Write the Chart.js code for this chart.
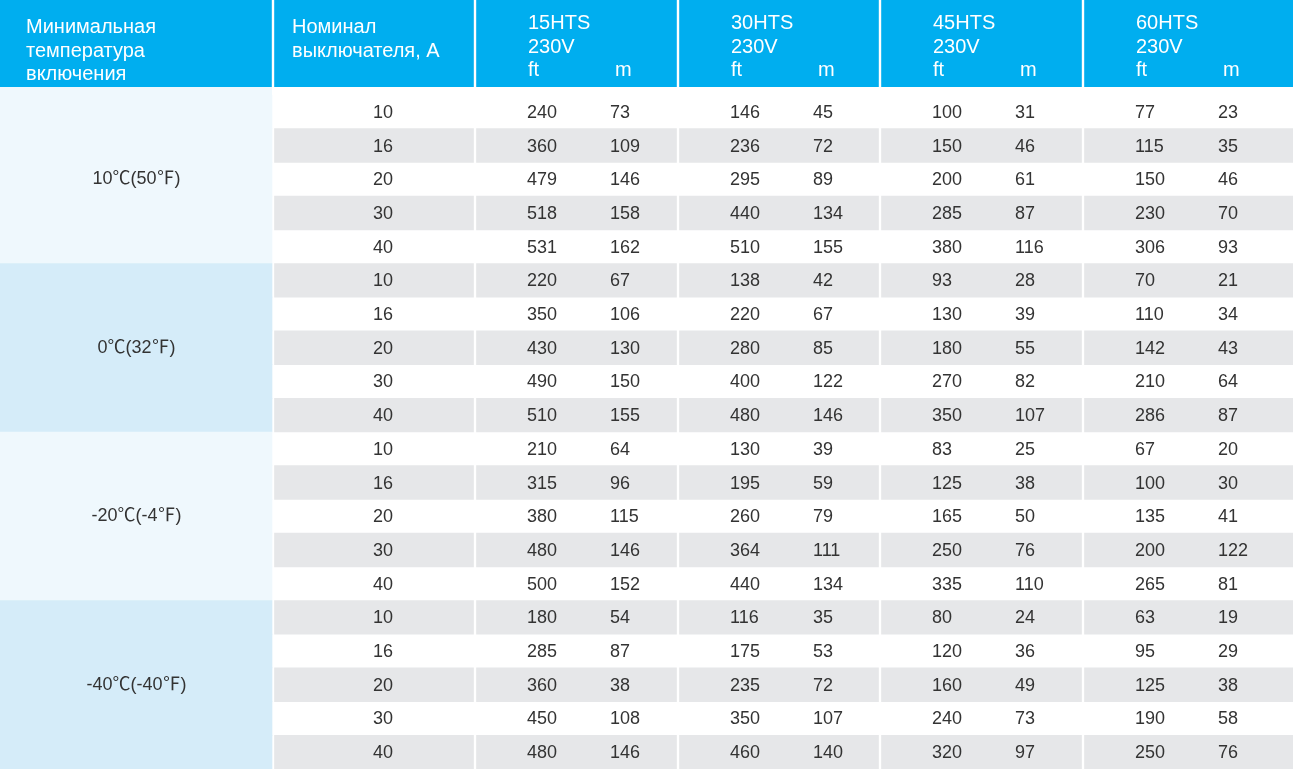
<!DOCTYPE html>
<html lang="ru">
<head>
<meta charset="utf-8">
<title>Максимальная длина цепи</title>
<script src="https://cdn.jsdelivr.net/npm/chart.js@4.4.1/dist/chart.umd.min.js"></script>
<style>
    html, body { margin: 0; padding: 0; background: #fff; }
    #wrap { width: 1293px; height: 772px; position: relative; }
</style>
</head>
<body>
<div id="wrap"><canvas id="table-chart"></canvas></div>
<script>
// --- DATA ---
const tempGroups = ['10℃(50℉)', '0℃(32℉)', '-20℃(-4℉)', '-40℃(-40℉)'];
const breakerRatings = [10, 16, 20, 30, 40];
const models = ['15HTS', '30HTS', '45HTS', '60HTS'];
const voltage = '230V';
const unitLabels = ['ft', 'm'];
const headerTemp = ['Минимальная', 'температура', 'включения'];
const headerBreaker = ['Номинал', 'выключателя, А'];

// one value per row: 4 temperature groups x 5 breaker ratings
const ft15 = [240, 360, 479, 518, 531, 220, 350, 430, 490, 510, 210, 315, 380, 480, 500, 180, 285, 360, 450, 480];
const m15  = [73, 109, 146, 158, 162, 67, 106, 130, 150, 155, 64, 96, 115, 146, 152, 54, 87, 38, 108, 146];
const ft30 = [146, 236, 295, 440, 510, 138, 220, 280, 400, 480, 130, 195, 260, 364, 440, 116, 175, 235, 350, 460];
const m30  = [45, 72, 89, 134, 155, 42, 67, 85, 122, 146, 39, 59, 79, 111, 134, 35, 53, 72, 107, 140];
const ft45 = [100, 150, 200, 285, 380, 93, 130, 180, 270, 350, 83, 125, 165, 250, 335, 80, 120, 160, 240, 320];
const m45  = [31, 46, 61, 87, 116, 28, 39, 55, 82, 107, 25, 38, 50, 76, 110, 24, 36, 49, 73, 97];
const ft60 = [77, 115, 150, 230, 306, 70, 110, 142, 210, 286, 67, 100, 135, 200, 265, 63, 95, 125, 190, 250];
const m60  = [23, 35, 46, 70, 93, 21, 34, 43, 64, 87, 20, 30, 41, 122, 81, 19, 29, 38, 58, 76];

const ftValues = [ft15, ft30, ft45, ft60];
const mValues = [m15, m30, m45, m60];

// --- LAYOUT & STYLE ---
const HEADER_H = 87;
const colEdges = [0, 273, 475, 678, 880, 1083, 1293]; // x units of the table
const BLUE = '#00aeef';
const GROUP_BG = ['#eff8fd', '#d5ecf9'];
const STRIPE = '#e6e7e9';
const TEXT = '#333333';
const DATA_FONT = '18px "Liberation Sans", Arial, sans-serif';
const TEMP_FONT = '18px "Liberation Sans", "Noto Sans CJK SC", sans-serif';
const HEAD_FONT = '20px "Liberation Sans", Arial, sans-serif';

const rowsPerGroup = breakerRatings.length;
const rowLabels = [];
tempGroups.forEach(t => breakerRatings.forEach(a => rowLabels.push(t + ' / ' + a)));
const groupOf = i => Math.floor(i / rowsPerGroup);

const barBase = {
    barPercentage: 1,
    categoryPercentage: 1,
    grouped: false,
    borderWidth: 0
};

// left column: one band per row, coloured by temperature group
const leftBand = {
    ...barBase,
    label: 'temp',
    data: rowLabels.map(() => [colEdges[0], colEdges[1] - 1]),
    backgroundColor: rowLabels.map((_, i) => GROUP_BG[groupOf(i) % 2])
};

// grey zebra stripes, one dataset per column block so the white dividers stay open
const lastBlock = colEdges.length - 2;
const stripeSets = colEdges.slice(1, -1).map((edge, k) => ({
    ...barBase,
    label: 'stripe' + k,
    data: rowLabels.map((_, i) => i % 2
        ? [edge + 1.5, k + 1 === lastBlock ? colEdges[k + 2] : colEdges[k + 2] - 1.5]
        : null),
    backgroundColor: STRIPE
}));

// --- TEXT PLUGIN ---
const tableText = {
    id: 'tableText',
    beforeDatasetsDraw(chart) {
        const { ctx, chartArea, scales: { x } } = chart;
        ctx.save();
        ctx.fillStyle = BLUE;
        ctx.fillRect(0, 0, chart.width, HEADER_H);
        ctx.fillStyle = '#ffffff';
        colEdges.slice(1, -1).forEach(e => ctx.fillRect(x.getPixelForValue(e) - 1.2, 0, 2.4, HEADER_H));
        // first group colour reaches up to the header
        ctx.fillStyle = GROUP_BG[0];
        ctx.fillRect(0, HEADER_H, x.getPixelForValue(colEdges[1] - 1), chartArea.top - HEADER_H + 1);

        ctx.fillStyle = '#ffffff';
        ctx.font = HEAD_FONT;
        ctx.textAlign = 'left';
        ctx.textBaseline = 'alphabetic';
        [33, 57, 80].forEach((b, k) => ctx.fillText(headerTemp[k], x.getPixelForValue(26), b));
        [33, 57].forEach((b, k) => ctx.fillText(headerBreaker[k], x.getPixelForValue(colEdges[1] + 19), b));
        models.forEach((name, k) => {
            const left = colEdges[k + 2];
            ctx.fillText(name, x.getPixelForValue(left + 53), 29);
            ctx.fillText(voltage, x.getPixelForValue(left + 53), 53);
            ctx.fillText(unitLabels[0], x.getPixelForValue(left + 53), 76);
            ctx.fillText(unitLabels[1], x.getPixelForValue(left + 140), 76);
        });
        ctx.restore();
    },
    afterDatasetsDraw(chart) {
        const { ctx, scales: { x, y } } = chart;
        ctx.save();
        ctx.fillStyle = TEXT;
        ctx.textBaseline = 'middle';

        ctx.font = TEMP_FONT;
        ctx.textAlign = 'center';
        tempGroups.forEach((t, g) => {
            const yMid = (y.getPixelForValue(g * rowsPerGroup) + y.getPixelForValue((g + 1) * rowsPerGroup - 1)) / 2;
            ctx.fillText(t, x.getPixelForValue(colEdges[1] / 2), yMid);
        });

        ctx.font = DATA_FONT;
        rowLabels.forEach((_, i) => {
            const yPx = y.getPixelForValue(i) + 1;
            ctx.textAlign = 'center';
            ctx.fillText(String(breakerRatings[i % rowsPerGroup]), x.getPixelForValue(colEdges[1] + 110), yPx);
            ctx.textAlign = 'left';
            models.forEach((_, k) => {
                const left = colEdges[k + 2];
                ctx.fillText(String(ftValues[k][i]), x.getPixelForValue(left + 52), yPx);
                ctx.fillText(String(mValues[k][i]), x.getPixelForValue(left + 135), yPx);
            });
        });
        ctx.restore();
    }
};

// --- CHART ---
new Chart(document.getElementById('table-chart'), {
    type: 'bar',
    data: {
        labels: rowLabels,
        datasets: [leftBand, ...stripeSets]
    },
    options: {
        indexAxis: 'y',
        responsive: true,
        maintainAspectRatio: false,
        animation: false,
        events: [],
        layout: { padding: { top: 95, bottom: 3, left: 0, right: 0 } },
        scales: {
            x: { type: 'linear', min: colEdges[0], max: colEdges[colEdges.length - 1], display: false },
            y: { type: 'category', display: false, offset: true }
        },
        plugins: {
            legend: { display: false },
            tooltip: { enabled: false },
            title: { display: false }
        }
    },
    plugins: [tableText]
});
</script>
</body>
</html>
